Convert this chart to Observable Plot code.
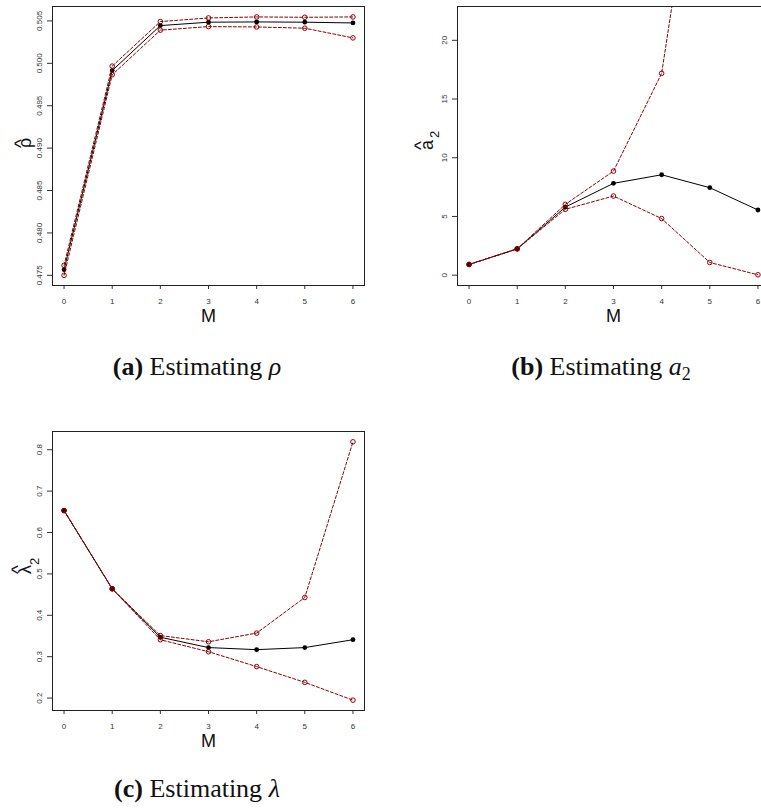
<!DOCTYPE html>
<html>
<head>
<meta charset="utf-8">
<script src="https://cdn.jsdelivr.net/npm/d3@7"></script>
<script src="https://cdn.jsdelivr.net/npm/@observablehq/plot@0.6"></script>
<style>
  html, body { margin: 0; padding: 0; background: white; overflow: hidden; }
  #wrap { position: relative; width: 761px; height: 809px; overflow: hidden; background: white; }
  .panel { position: absolute; }
  .cap { position: absolute; font-family: "Liberation Serif", "Times New Roman", serif; font-size: 26px; line-height: 26px; white-space: nowrap; transform: translateX(-50%); color: #111; }
  .cap b { font-weight: bold; }
  .cap sub { font-size: 18px; vertical-align: -5px; line-height: 0; }
</style>
</head>
<body>
<div id="wrap"></div>
<script>
// ---- data ----
const M = [0, 1, 2, 3, 4, 5, 6];

const rhoEst   = [0.47567, 0.49915, 0.50445, 0.50485, 0.50488, 0.50485, 0.50476];
const rhoUpper = [0.47618, 0.49967, 0.50492, 0.50535, 0.50547, 0.50543, 0.50547];
const rhoLower = [0.47500, 0.49865, 0.50391, 0.50433, 0.50429, 0.50414, 0.50300];
const rhoTicks = [0.475, 0.480, 0.485, 0.490, 0.495, 0.500, 0.505];

const a2Est   = [0.91, 2.24, 5.80, 7.82, 8.55, 7.45, 5.55];
const a2Upper = [0.91, 2.24, 6.03, 8.86, 17.19, 44.0, 95.0];
const a2Lower = [0.91, 2.24, 5.61, 6.74, 4.82, 1.08, 0.03];
const a2Ticks = [0, 5, 10, 15, 20];

const lamEst   = [0.653, 0.464, 0.347, 0.322, 0.317, 0.322, 0.341];
const lamUpper = [0.653, 0.464, 0.351, 0.336, 0.357, 0.443, 0.819];
const lamLower = [0.653, 0.464, 0.341, 0.312, 0.276, 0.238, 0.195];
const lamTicks = [0.2, 0.3, 0.4, 0.5, 0.6, 0.7, 0.8];

const xLabel = "M";
const yLabels = [
  {base: "ρ", sub: ""},
  {base: "a", sub: "2"},
  {base: "λ", sub: "2"}
];
const captions = [
  '<b>(a)</b> Estimating <i>ρ</i>',
  '<b>(b)</b> Estimating <i>a</i><sub>2</sub>',
  '<b>(c)</b> Estimating <i>λ</i>'
];

const RED = "#8B0000";

function panel(cfg) {
  const rows = M.map((m, i) => ({m, est: cfg.est[i], up: cfg.up[i], lo: cfg.lo[i]}));
  const L = cfg.label, o = cfg.lo_;
  const svg = Plot.plot({
    width: 380, height: 330,
    marginLeft: 52, marginRight: 16, marginTop: 6, marginBottom: 45,
    x: {domain: [-0.24, 6.24]},
    y: {domain: cfg.domain},
    style: {fontFamily: "'Liberation Sans', Arial, Helvetica, sans-serif", background: "white", color: "#333", overflow: "visible"},
    marks: [
      Plot.axisX({ticks: M, tickSize: 4, tickPadding: 9, fontSize: 8, label: null, tickFormat: d => String(d)}),
      Plot.axisY({ticks: cfg.ticks, tickSize: 5, tickPadding: 6, tickRotate: -90, textAnchor: "middle", lineAnchor: "bottom",
                  fontSize: 8, label: null, tickFormat: cfg.fmt}),
      Plot.line(rows, {x: "m", y: "est", stroke: "black", strokeWidth: 1, clip: true}),
      Plot.dot(rows, {x: "m", y: "est", fill: "black", r: 2.4, clip: true}),
      Plot.line(rows, {x: "m", y: "up", stroke: RED, strokeWidth: 1, strokeDasharray: "3,2", clip: true}),
      Plot.line(rows, {x: "m", y: "lo", stroke: RED, strokeWidth: 1, strokeDasharray: "3,2", clip: true}),
      Plot.dot(rows, {x: "m", y: "up", stroke: RED, fill: "none", strokeWidth: 1, r: 2.3, clip: true}),
      Plot.dot(rows, {x: "m", y: "lo", stroke: RED, fill: "none", strokeWidth: 1, r: 2.3, clip: true}),
      Plot.frame({stroke: "#222", strokeWidth: 1}),
      Plot.text([xLabel], {frameAnchor: "bottom", dy: 36, fontSize: 18, fill: "#111", text: d => d}),
      // y-axis title: letter, hat and subscript as separate rotated texts
      Plot.text([L.base], {frameAnchor: "left", dx: o.bx, dy: o.by, rotate: -90, fontSize: 18, fill: "#111", text: d => d}),
      Plot.text(["^"], {frameAnchor: "left", dx: o.hx, dy: o.hy, rotate: -90, fontSize: 19, fill: "#111", text: d => d}),
      Plot.text([L.sub], {frameAnchor: "left", dx: o.sx, dy: o.sy, rotate: -90, fontSize: 13, fill: "#111", text: d => d})
    ]
  });
  svg.classList.add("panel");
  svg.style.left = cfg.left + "px";
  svg.style.top = cfg.top + "px";
  return svg;
}

const wrap = document.getElementById("wrap");
wrap.appendChild(panel({est: rhoEst, up: rhoUpper, lo: rhoLower, ticks: rhoTicks, fmt: d3.format(".3f"),
  domain: [0.4738, 0.5067], label: yLabels[0], lo_: {bx: -27, by: 2, hx: -32, hy: 2, sx: 0, sy: 0}, left: 0, top: 0}));
wrap.appendChild(panel({est: a2Est, up: a2Upper, lo: a2Lower, ticks: a2Ticks, fmt: d3.format("d"),
  domain: [-0.88, 22.88], label: yLabels[1], lo_: {bx: -30, by: 4, hx: -37, hy: 4, sx: -23, sy: -8}, left: 405, top: 0}));
wrap.appendChild(panel({est: lamEst, up: lamUpper, lo: lamLower, ticks: lamTicks, fmt: d3.format(".1f"),
  domain: [0.170, 0.844], label: yLabels[2], lo_: {bx: -27, by: 3, hx: -35, hy: 3, sx: -18, sy: -6}, left: 0, top: 425}));

const capPos = [[197, 354], [601, 354], [197, 776]];
captions.forEach((html, i) => {
  const d = document.createElement("div");
  d.className = "cap";
  d.innerHTML = html;
  d.style.left = capPos[i][0] + "px";
  d.style.top = capPos[i][1] + "px";
  wrap.appendChild(d);
});
</script>
</body>
</html>
